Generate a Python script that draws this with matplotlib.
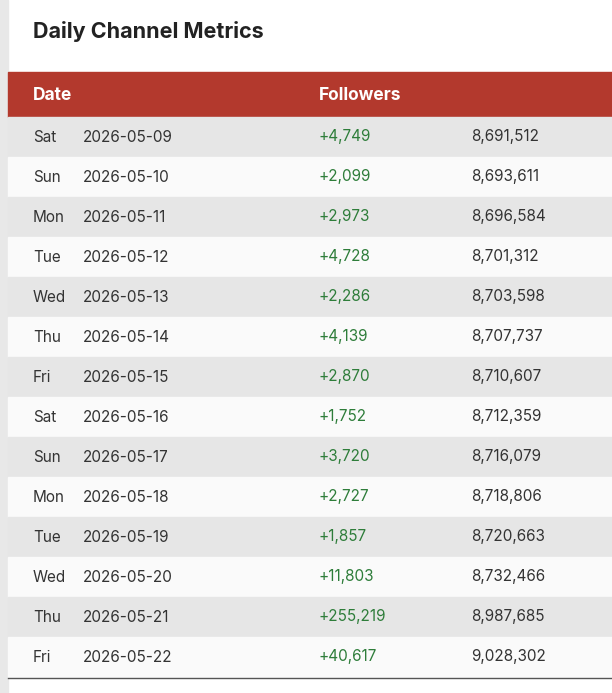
import matplotlib
matplotlib.use("Agg")
import matplotlib.pyplot as plt
from matplotlib.patches import Rectangle

days = ["Sat","Sun","Mon","Tue","Wed","Thu","Fri","Sat","Sun","Mon","Tue","Wed","Thu","Fri"]
dates = ["2026-05-09","2026-05-10","2026-05-11","2026-05-12","2026-05-13","2026-05-14","2026-05-15",
         "2026-05-16","2026-05-17","2026-05-18","2026-05-19","2026-05-20","2026-05-21","2026-05-22"]
gains = [4749,2099,2973,4728,2286,4139,2870,1752,3720,2727,1857,11803,255219,40617]
totals = [8691512,8693611,8696584,8701312,8703598,8707737,8710607,8712359,8716079,8718806,8720663,8732466,8987685,9028302]

W, H = 612, 693
fig = plt.figure(figsize=(W/100, H/100), dpi=100)
ax = fig.add_axes([0, 0, 1, 1])
ax.set_xlim(0, W); ax.set_ylim(H, 0); ax.axis("off")
plt.rcParams['font.family'] = ['Inter', 'DejaVu Sans']

ax.add_patch(Rectangle((0, 0), W, H, color="#ffffff", zorder=0))
ax.add_patch(Rectangle((0, 0), 8, H, color="#e8e8e8", zorder=1))
ax.text(33, 31, "Daily Channel Metrics", fontsize=15.5, fontweight="bold", color="#222222", va="center")
ax.add_patch(Rectangle((8, 72), W-8, 45, color="#b3392d", zorder=1))
ax.text(33, 95, "Date", fontsize=12.5, fontweight="bold", color="white", va="center", zorder=2)
ax.text(319, 95, "Followers", fontsize=12.5, fontweight="bold", color="white", va="center", zorder=2)

rh = 40
for i, (d, dt, g, t) in enumerate(zip(days, dates, gains, totals)):
    y0 = 117 + i*rh
    ax.add_patch(Rectangle((8, y0), W-8, rh, color="#e6e6e6" if i % 2 == 0 else "#fafafa", zorder=1))
    yc = y0 + rh/2
    ax.text(33, yc, d, fontsize=11, color="#333333", va="center", zorder=2)
    ax.text(83, yc, dt, fontsize=11, color="#333333", va="center", zorder=2)
    ax.text(319, yc, f"+{g:,}", fontsize=11, color="#2e7d3a", va="center", zorder=2)
    ax.text(471, yc, f"{t:,}", fontsize=11, color="#333333", va="center", zorder=2)
ax.plot([8, W], [677.5, 677.5], color="#555555", lw=1, zorder=3)

fig.savefig("out.png", dpi=100)
